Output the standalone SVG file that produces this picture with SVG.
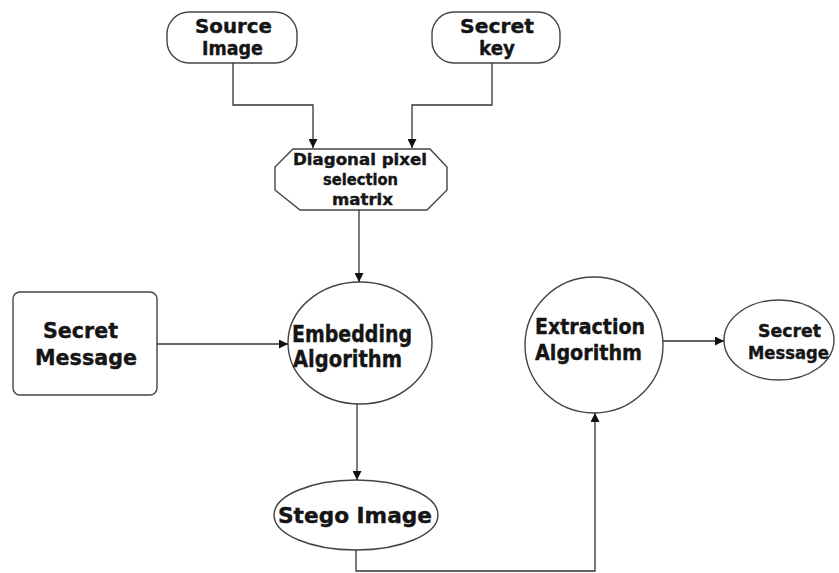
<svg xmlns="http://www.w3.org/2000/svg" width="839" height="573" viewBox="0 0 839 573">
<defs>
<marker id="arr" viewBox="0 0 10 10" refX="10" refY="5" markerWidth="9" markerHeight="9" markerUnits="userSpaceOnUse" orient="auto">
<path d="M0,0 L10,5 L0,10 Z" fill="#111"/>
</marker>
</defs>
<style>
.shape{fill:#fff;stroke:#444;stroke-width:1.4}
.t{font-family:"DejaVu Sans","Liberation Sans",sans-serif;font-weight:bold;fill:#151515;stroke:#151515;stroke-width:0.4;text-anchor:start}
.c{fill:none;stroke:#333;stroke-width:1.3}
</style>
<rect width="839" height="573" fill="#fff"/>
<g id="source-image">
<rect class="shape" x="167" y="12" width="130" height="51" rx="22"/>
<text class="t" x="195" y="33" font-size="20" textLength="77" lengthAdjust="spacingAndGlyphs">Source</text>
<text class="t" x="202" y="55" font-size="20" textLength="61" lengthAdjust="spacingAndGlyphs">Image</text>
</g>
<g id="secret-key">
<rect class="shape" x="432" y="12" width="128" height="51" rx="22"/>
<text class="t" x="460" y="33" font-size="20" textLength="74" lengthAdjust="spacingAndGlyphs">Secret</text>
<text class="t" x="479" y="55" font-size="20" textLength="36" lengthAdjust="spacingAndGlyphs">key</text>
</g>
<g id="diagonal-pixel">
<polygon class="shape" points="293,149 430,149 447,167 447,190 427,210 300,210 275,190 275,167"/>
<text class="t" x="293" y="165" font-size="16" textLength="134" lengthAdjust="spacingAndGlyphs">Diagonal pixel</text>
<text class="t" x="323" y="185" font-size="16" textLength="75" lengthAdjust="spacingAndGlyphs">selection</text>
<text class="t" x="332" y="205" font-size="16" textLength="61" lengthAdjust="spacingAndGlyphs">matrix</text>
</g>
<g id="secret-message-in">
<rect class="shape" x="13" y="292" width="144" height="103" rx="7"/>
<text class="t" x="43" y="338" font-size="22" textLength="75" lengthAdjust="spacingAndGlyphs">Secret</text>
<text class="t" x="35" y="365" font-size="22" textLength="102" lengthAdjust="spacingAndGlyphs">Message</text>
</g>
<g id="embedding">
<ellipse class="shape" cx="360" cy="343" rx="72" ry="61"/>
<text class="t" x="292" y="342" font-size="23" textLength="120" lengthAdjust="spacingAndGlyphs">Embedding</text>
<text class="t" x="293" y="367" font-size="23" textLength="109" lengthAdjust="spacingAndGlyphs">Algorithm</text>
</g>
<g id="stego-image">
<ellipse class="shape" cx="356" cy="515" rx="82" ry="35"/>
<text class="t" x="278" y="523" font-size="21" textLength="154" lengthAdjust="spacingAndGlyphs">Stego Image</text>
</g>
<g id="extraction">
<ellipse class="shape" cx="594" cy="345" rx="69" ry="68"/>
<text class="t" x="535" y="334" font-size="21" textLength="110" lengthAdjust="spacingAndGlyphs">Extraction</text>
<text class="t" x="535" y="360" font-size="21" textLength="107" lengthAdjust="spacingAndGlyphs">Algorithm</text>
</g>
<g id="secret-message-out">
<ellipse class="shape" cx="779" cy="340" rx="55" ry="40"/>
<text class="t" x="758" y="337" font-size="18" textLength="63" lengthAdjust="spacingAndGlyphs">Secret</text>
<text class="t" x="748" y="359" font-size="18" textLength="81" lengthAdjust="spacingAndGlyphs">Message</text>
</g>
<g id="connectors">
<path class="c" d="M233,63 V105 H313 V148" marker-end="url(#arr)"/>
<path class="c" d="M492,63 V105 H412 V148" marker-end="url(#arr)"/>
<path class="c" d="M359,210 V282" marker-end="url(#arr)"/>
<path class="c" d="M157,344 H288" marker-end="url(#arr)"/>
<path class="c" d="M357,404 V480" marker-end="url(#arr)"/>
<path class="c" d="M356,550 V571 H595 V413" marker-end="url(#arr)"/>
<path class="c" d="M663,341 H724" marker-end="url(#arr)"/>
</g>
</svg>
